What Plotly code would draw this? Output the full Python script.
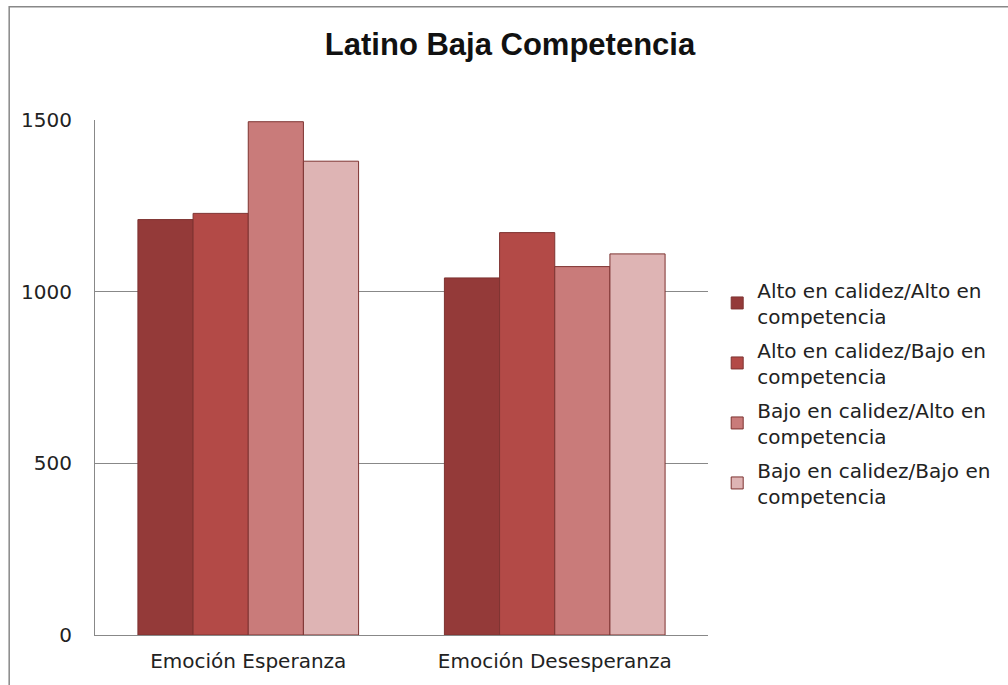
import plotly.graph_objects as go

categories = ["Emoción Esperanza", "Emoción Desesperanza"]
series_names = [
    "Alto en calidez/Alto en<br>competencia",
    "Alto en calidez/Bajo en<br>competencia",
    "Bajo en calidez/Alto en<br>competencia",
    "Bajo en calidez/Bajo en<br>competencia",
]
alto_alto = [1210, 1040]
alto_bajo = [1228, 1172]
bajo_alto = [1495, 1073]
bajo_bajo = [1380, 1110]
tick_vals = [0, 500, 1000, 1500]

series_values = [alto_alto, alto_bajo, bajo_alto, bajo_bajo]
colors = ["#943A39", "#B34A47", "#C97B7A", "#DEB4B4"]

fig = go.Figure()
for i, (name, vals, col) in enumerate(zip(series_names, series_values, colors)):
    fig.add_trace(go.Bar(
        x=categories, y=vals, name=name,
        marker=dict(color=col, line=dict(color="#7E3331", width=1)),
        legendgroup=f"g{i}",
    ))

fig.update_layout(
    width=1008, height=685,
    margin=dict(l=95, r=300, t=120, b=50),
    paper_bgcolor="white", plot_bgcolor="white",
    barmode="group", bargap=0.28, bargroupgap=0,
    font=dict(family="DejaVu Sans, sans-serif", size=20, color="#222222"),
    title=dict(text="<b>Latino Baja Competencia</b>", x=0.506, xanchor="center",
               y=0.935, yanchor="middle",
               font=dict(family="Liberation Sans, Arial, sans-serif", size=31, color="#111111")),
    legend=dict(x=1.015, xanchor="left", y=0.47, yanchor="middle",
                font=dict(size=20), tracegroupgap=5, traceorder="grouped",
                itemwidth=30),
    showlegend=True,
)
fig.update_yaxes(range=[0, 1500], tickvals=tick_vals, showgrid=True,
                 gridcolor="#888888", gridwidth=1, zeroline=False,
                 showline=True, linecolor="#888888", linewidth=1,
                 ticks="", ticklabelstandoff=18, tickfont=dict(size=20))
fig.update_xaxes(showline=True, linecolor="#888888", linewidth=1,
                 ticks="", ticklabelstandoff=8, tickfont=dict(size=20))

# outer chart border
fig.add_shape(type="rect", xref="paper", yref="paper",
              x0=-0.14, x1=1.51, y0=-0.18, y1=1.22,
              line=dict(color="#888888", width=1.5), layer="below")

fig.write_html("out.html")
